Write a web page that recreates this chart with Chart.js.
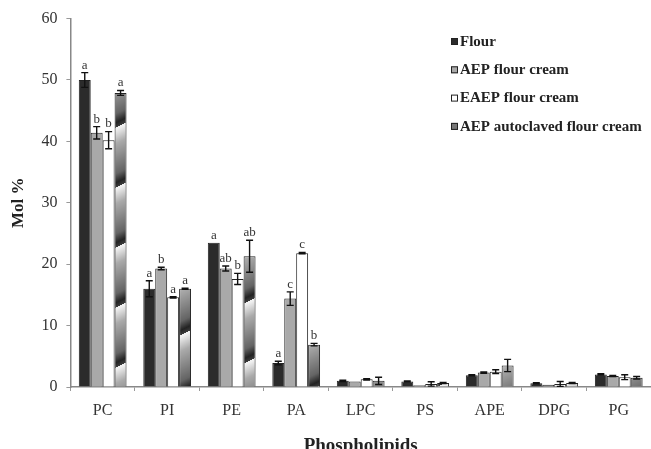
<!DOCTYPE html>
<html>
<head>
<meta charset="utf-8">
<script src="https://cdn.jsdelivr.net/npm/chart.js@4.4.1/dist/chart.umd.min.js"></script>
<style>
  html, body { margin: 0; padding: 0; background: #fff; }
  #wrap { width: 651px; height: 449px; }
</style>
</head>
<body>
<div id="wrap"><canvas id="chart" width="651" height="449"></canvas></div>
<script>
const categories = ['PC', 'PI', 'PE', 'PA', 'LPC', 'PS', 'APE', 'DPG', 'PG'];
const seriesNames = ['Flour', 'AEP flour cream', 'EAEP flour cream', 'AEP autoclaved flour cream'];

const flour      = [50.0, 16.0, 23.5, 3.9, 1.0, 0.9, 1.9, 0.6, 2.05];
const aepCream   = [41.4, 19.3, 19.3, 14.4, 0.9, 0.3, 2.35, 0.35, 1.8];
const eaepCream  = [40.2, 14.6, 17.6, 21.8, 1.25, 0.5, 2.5, 0.5, 1.6];
const autoCream  = [47.9, 16.0, 21.3, 6.9, 1.0, 0.65, 3.5, 0.65, 1.5];

const flourErr   = [1.2, 1.3, 0.0, 0.3, 0.1, 0.1, 0.1, 0.1, 0.1];
const aepErr     = [1.0, 0.2, 0.4, 1.1, 0.0, 0.0, 0.1, 0.0, 0.1];
const eaepErr    = [1.4, 0.1, 0.9, 0.1, 0.1, 0.35, 0.3, 0.4, 0.4];
const autoErr    = [0.4, 0.1, 2.6, 0.2, 0.6, 0.1, 1.0, 0.1, 0.2];

const flourLetters = ['a', 'a', 'a', 'a', '', '', '', '', ''];
const aepLetters   = ['b', 'b', 'ab', 'c', '', '', '', '', ''];
const eaepLetters  = ['b', 'a', 'b', 'c', '', '', '', '', ''];
const autoLetters  = ['a', 'a', 'ab', 'b', '', '', '', '', ''];

const serif = '"Liberation Serif", "DejaVu Serif", serif';

// striped gradient fill for the autoclaved series
function makeStripePattern(ctx) {
    const w = 120, h = 60;
    const c = document.createElement('canvas');
    c.width = w; c.height = h;
    const g = c.getContext('2d');
    const img = g.createImageData(w, h);
    for (let y = 0; y < h; y++) {
        for (let x = 0; x < w; x++) {
            let t = (((y + x * 0.5) % h) + h) % h / h;
            let v;
            if (t < 0.08) v = 35 + t / 0.08 * 25;
            else if (t < 0.11) v = 240;
            else if (t < 0.35) v = 240 - (t - 0.11) / 0.24 * 70;
            else if (t < 0.85) v = 170 - (t - 0.35) / 0.5 * 70;
            else v = 100 - (t - 0.85) / 0.15 * 65;
            const i = (y * w + x) * 4;
            img.data[i] = img.data[i + 1] = img.data[i + 2] = v;
            img.data[i + 3] = 255;
        }
    }
    g.putImageData(img, 0, 0);
    return ctx.createPattern(c, 'repeat');
}

const errorBars = {
    id: 'errorBars',
    afterDatasetsDraw(chart) {
        const ctx = chart.ctx;
        const yScale = chart.scales.y;
        ctx.save();
        ctx.strokeStyle = '#111';
        ctx.lineWidth = 1.4;
        chart.data.datasets.forEach((ds, di) => {
            const meta = chart.getDatasetMeta(di);
            meta.data.forEach((bar, i) => {
                const e = ds.errors[i];
                if (!e) return;
                const top = yScale.getPixelForValue(ds.data[i] + e);
                const bot = yScale.getPixelForValue(ds.data[i] - e);
                ctx.beginPath();
                ctx.moveTo(bar.x, top); ctx.lineTo(bar.x, bot);
                ctx.moveTo(bar.x - 3.5, top); ctx.lineTo(bar.x + 3.5, top);
                ctx.moveTo(bar.x - 3.5, bot); ctx.lineTo(bar.x + 3.5, bot);
                ctx.stroke();
            });
        });
        ctx.fillStyle = '#333';
        ctx.font = '13px ' + serif;
        ctx.textAlign = 'center';
        ctx.textBaseline = 'bottom';
        chart.data.datasets.forEach((ds, di) => {
            const meta = chart.getDatasetMeta(di);
            meta.data.forEach((bar, i) => {
                const l = ds.letters[i];
                if (!l) return;
                const y = yScale.getPixelForValue(ds.data[i] + (ds.errors[i] || 0));
                ctx.fillText(l, bar.x, y - 1);
            });
        });
        ctx.restore();
    }
};

const boxLegend = {
    id: 'boxLegend',
    afterDraw(chart) {
        const ctx = chart.ctx;
        ctx.save();
        ctx.font = 'bold 15px ' + serif;
        ctx.textBaseline = 'middle';
        chart.data.datasets.forEach((ds, i) => {
            const y = 42 + i * 28.3;
            ctx.fillStyle = ds.legendColor;
            ctx.fillRect(451, y - 4, 7, 7);
            ctx.strokeStyle = '#222';
            ctx.lineWidth = 1;
            ctx.strokeRect(451.5, y - 3.5, 6, 6);
            ctx.fillStyle = '#222';
            ctx.fillText(seriesNames[i], 460, y);
        });
        ctx.restore();
    }
};

const canvas = document.getElementById('chart');
const ctx = canvas.getContext('2d');
const stripes = makeStripePattern(ctx);

new Chart(ctx, {
    type: 'bar',
    data: {
        labels: categories,
        datasets: [
            { label: seriesNames[0], data: flour, errors: flourErr, letters: flourLetters,
              backgroundColor: '#2b2b2b', legendColor: '#2b2b2b' },
            { label: seriesNames[1], data: aepCream, errors: aepErr, letters: aepLetters,
              backgroundColor: '#a9a9a9', legendColor: '#a9a9a9' },
            { label: seriesNames[2], data: eaepCream, errors: eaepErr, letters: eaepLetters,
              backgroundColor: '#ffffff', legendColor: '#ffffff' },
            { label: seriesNames[3], data: autoCream, errors: autoErr, letters: autoLetters,
              backgroundColor: stripes, legendColor: '#777777' }
        ].map(d => Object.assign(d, {
            borderColor: '#222', borderWidth: 1, barPercentage: 1, categoryPercentage: 0.74
        }))
    },
    options: {
        responsive: false,
        animation: false,
        layout: { padding: { top: 16, right: -5, bottom: -12, left: 4 } },
        plugins: {
            legend: { display: false },
            tooltip: { enabled: false }
        },
        scales: {
            x: {
                grid: { display: true, drawOnChartArea: false, drawTicks: true, tickLength: 4, offset: true, color: '#999' },
                border: { color: '#888', width: 1.5 },
                ticks: { color: '#333', font: { family: serif, size: 16 }, padding: 10 },
                title: { display: true, text: 'Phospholipids', color: '#222',
                         font: { family: serif, size: 19, weight: 'bold' }, padding: { top: 4 } }
            },
            y: {
                min: 0, max: 60,
                grid: { drawOnChartArea: false, drawTicks: true, tickLength: 4, color: '#999' },
                border: { color: '#888', width: 1.5 },
                ticks: { stepSize: 10, color: '#333', font: { family: serif, size: 16 }, padding: 9 },
                title: { display: true, text: 'Mol %', color: '#222',
                         font: { family: serif, size: 17, weight: 'bold' }, padding: { bottom: 4 } }
            }
        }
    },
    plugins: [errorBars, boxLegend]
});
</script>
</body>
</html>
